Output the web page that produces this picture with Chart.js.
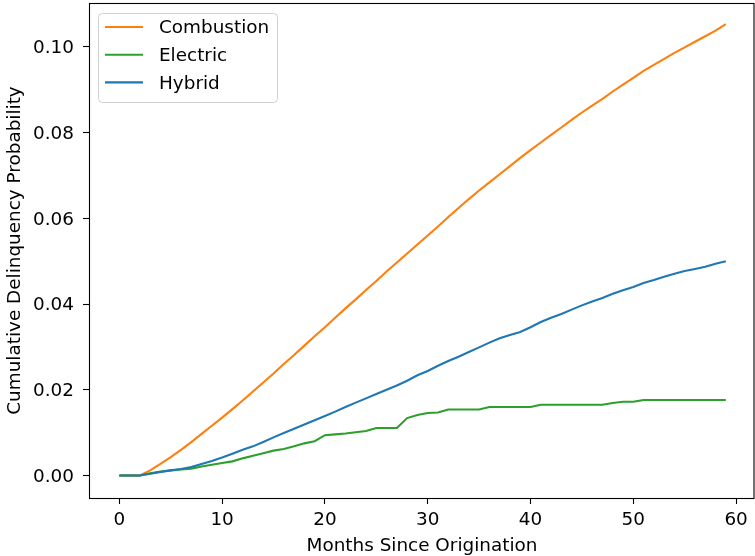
<!DOCTYPE html>
<html>
<head>
<meta charset="utf-8">
<script src="https://cdn.jsdelivr.net/npm/chart.js@4.4.0/dist/chart.umd.min.js"></script>
<style>
    body { margin: 0; background: #fff; }
    canvas { display: block; }
</style>
</head>
<body>
<canvas id="myLineChartDelinquency" width="755" height="556"></canvas>
<script>
const months = [0, 1, 2, 3, 4, 5, 6, 7, 8, 9, 10, 11, 12, 13, 14, 15, 16, 17, 18, 19,
    20, 21, 22, 23, 24, 25, 26, 27, 28, 29, 30, 31, 32, 33, 34, 35, 36, 37, 38, 39,
    40, 41, 42, 43, 44, 45, 46, 47, 48, 49, 50, 51, 52, 53, 54, 55, 56, 57, 58, 59];

const combustion = [0, 0, 0, 0.0012, 0.0027, 0.0043, 0.0060, 0.0078, 0.0097, 0.0116,
    0.0135, 0.0155, 0.0175, 0.0196, 0.0217, 0.0238, 0.0260, 0.0281, 0.0303, 0.0325,
    0.0346, 0.0368, 0.0390, 0.0411, 0.0433, 0.0454, 0.0476, 0.0497, 0.0518, 0.0539,
    0.0560, 0.0581, 0.0603, 0.0624, 0.0645, 0.0665, 0.0684, 0.0703, 0.0722, 0.0741,
    0.0759, 0.0777, 0.0795, 0.0812, 0.0830, 0.0847, 0.0863, 0.0879, 0.0896, 0.0912,
    0.0928, 0.0944, 0.0958, 0.0972, 0.0986, 0.0999, 0.1012, 0.1025, 0.1038, 0.1053];

const electric = [0, 0, 0, 0.0005, 0.0009, 0.0012, 0.0014, 0.0016, 0.0021, 0.0025,
    0.0029, 0.0033, 0.0040, 0.0046, 0.0052, 0.0058, 0.0062, 0.0068, 0.0075, 0.0080,
    0.0094, 0.0096, 0.0098, 0.0101, 0.0104, 0.0111, 0.0111, 0.0111, 0.0134, 0.0141,
    0.0146, 0.0147, 0.0154, 0.0154, 0.0154, 0.0154, 0.0160, 0.0160, 0.0160, 0.0160,
    0.0160, 0.0165, 0.0165, 0.0165, 0.0165, 0.0165, 0.0165, 0.0165, 0.0169, 0.0172,
    0.0172, 0.0176, 0.0176, 0.0176, 0.0176, 0.0176, 0.0176, 0.0176, 0.0176, 0.0176];

const hybrid = [0, 0, 0, 0.0004, 0.0008, 0.0012, 0.0015, 0.0020, 0.0027, 0.0034,
    0.0042, 0.0051, 0.0060, 0.0068, 0.0078, 0.0089, 0.0099, 0.0109, 0.0119, 0.0129,
    0.0139, 0.0149, 0.0160, 0.0170, 0.0180, 0.0190, 0.0200, 0.0210, 0.0221, 0.0234,
    0.0244, 0.0256, 0.0267, 0.0277, 0.0288, 0.0299, 0.0310, 0.0320, 0.0328, 0.0335,
    0.0346, 0.0358, 0.0368, 0.0377, 0.0387, 0.0397, 0.0406, 0.0414, 0.0424, 0.0432,
    0.0440, 0.0449, 0.0456, 0.0464, 0.0471, 0.0477, 0.0482, 0.0487, 0.0494, 0.0500];

const seriesLabels = ["Combustion", "Electric", "Hybrid"];
const xTicks = [0, 10, 20, 30, 40, 50, 60];
const yTicks = [0, 0.02, 0.04, 0.06, 0.08, 0.10];

const FONT = "DejaVu Sans";
const FONT_SIZE = 18.4;

function toPoints(values) {
    return months.map(function (m, i) { return {x: m, y: values[i]}; });
}

// matplotlib style box around the axes
const frameBox = {
    id: 'frameBox',
    afterDatasetsDraw: function (chart) {
        const a = chart.chartArea;
        const ctx = chart.ctx;
        ctx.save();
        ctx.strokeStyle = "#000";
        ctx.lineWidth = 1.1;
        ctx.strokeRect(a.left + 0.5, a.top + 0.5, a.right - a.left - 1.5, a.bottom - a.top);
        ctx.restore();
    }
};

// legend box in the upper left corner
const boxLegend = {
    id: 'boxLegend',
    afterDraw: function (chart) {
        const a = chart.chartArea;
        const ctx = chart.ctx;
        const x = a.left + 9, y = a.top + 10, w = 179, h = 89, r = 4;
        ctx.save();
        ctx.beginPath();
        ctx.roundRect(x + 0.5, y + 0.5, w, h, r);
        ctx.fillStyle = "rgba(255,255,255,0.8)";
        ctx.fill();
        ctx.strokeStyle = "#d0d0d0";
        ctx.lineWidth = 1;
        ctx.stroke();
        ctx.font = FONT_SIZE + "px '" + FONT + "'";
        ctx.textBaseline = "middle";
        ctx.fillStyle = "#000";
        chart.data.datasets.forEach(function (ds, i) {
            const rowY = y + 14 + i * 27.7;
            ctx.beginPath();
            ctx.moveTo(x + 7, rowY);
            ctx.lineTo(x + 45, rowY);
            ctx.strokeStyle = ds.borderColor;
            ctx.lineWidth = 2.1;
            ctx.stroke();
            ctx.fillText(ds.label, x + 61, rowY + 1.5);
        });
        ctx.restore();
    }
};

const ctx = document.getElementById("myLineChartDelinquency");
const myLineChartDelinquency = new Chart(ctx, {
    type: 'line',
    data: {
        datasets: [{
            label: seriesLabels[0],
            data: toPoints(combustion),
            borderColor: "#ff7f0e",
            backgroundColor: "#ff7f0e",
            order: 2
        }, {
            label: seriesLabels[1],
            data: toPoints(electric),
            borderColor: "#2ca02c",
            backgroundColor: "#2ca02c",
            order: 1
        }, {
            label: seriesLabels[2],
            data: toPoints(hybrid),
            borderColor: "#1f77b4",
            backgroundColor: "#1f77b4",
            order: 0
        }]
    },
    options: {
        responsive: false,
        animation: false,
        devicePixelRatio: 1,
        layout: {padding: {top: 3, right: 0, bottom: 0, left: 0}},
        elements: {
            point: {radius: 0, hoverRadius: 0},
            line: {borderWidth: 2.1, tension: 0, fill: false, borderCapStyle: 'butt'}
        },
        plugins: {
            legend: {display: false},
            tooltip: {enabled: false}
        },
        scales: {
            x: {
                type: 'linear',
                min: -2.95,
                max: 61.84,
                afterBuildTicks: function (scale) {
                    scale.ticks = xTicks.map(function (v) { return {value: v}; });
                },
                afterFit: function (scale) {
                    scale.height = 58;
                    scale.paddingLeft = 0;
                    scale.paddingRight = 0;
                },
                border: {display: false},
                grid: {display: true, drawOnChartArea: false, drawTicks: true,
                    tickLength: 6, tickColor: "#000", tickWidth: 1.1},
                ticks: {
                    color: "#000",
                    padding: 5,
                    maxRotation: 0,
                    font: {family: FONT, size: FONT_SIZE},
                    callback: function (v) { return String(v); }
                },
                title: {
                    display: true,
                    text: "Months Since Origination",
                    color: "#000",
                    font: {family: FONT, size: FONT_SIZE},
                    padding: {top: 0, bottom: -1.5}
                }
            },
            y: {
                type: 'linear',
                min: -0.00525,
                max: 0.11025,
                afterBuildTicks: function (scale) {
                    scale.ticks = yTicks.map(function (v) { return {value: v}; });
                },
                afterFit: function (scale) {
                    scale.width = 89;
                    scale.paddingTop = 0;
                    scale.paddingBottom = 0;
                },
                border: {display: false},
                grid: {display: true, drawOnChartArea: false, drawTicks: true,
                    tickLength: 6, tickColor: "#000", tickWidth: 1.1},
                ticks: {
                    color: "#000",
                    padding: 9,
                    labelOffset: 1.5,
                    font: {family: FONT, size: FONT_SIZE},
                    callback: function (v) { return v.toFixed(2); }
                },
                title: {
                    display: true,
                    text: "Cumulative Delinquency Probability",
                    color: "#000",
                    font: {family: FONT, size: FONT_SIZE},
                    padding: {top: 4.5, bottom: 0}
                }
            }
        }
    },
    plugins: [frameBox, boxLegend]
});
</script>
</body>
</html>
